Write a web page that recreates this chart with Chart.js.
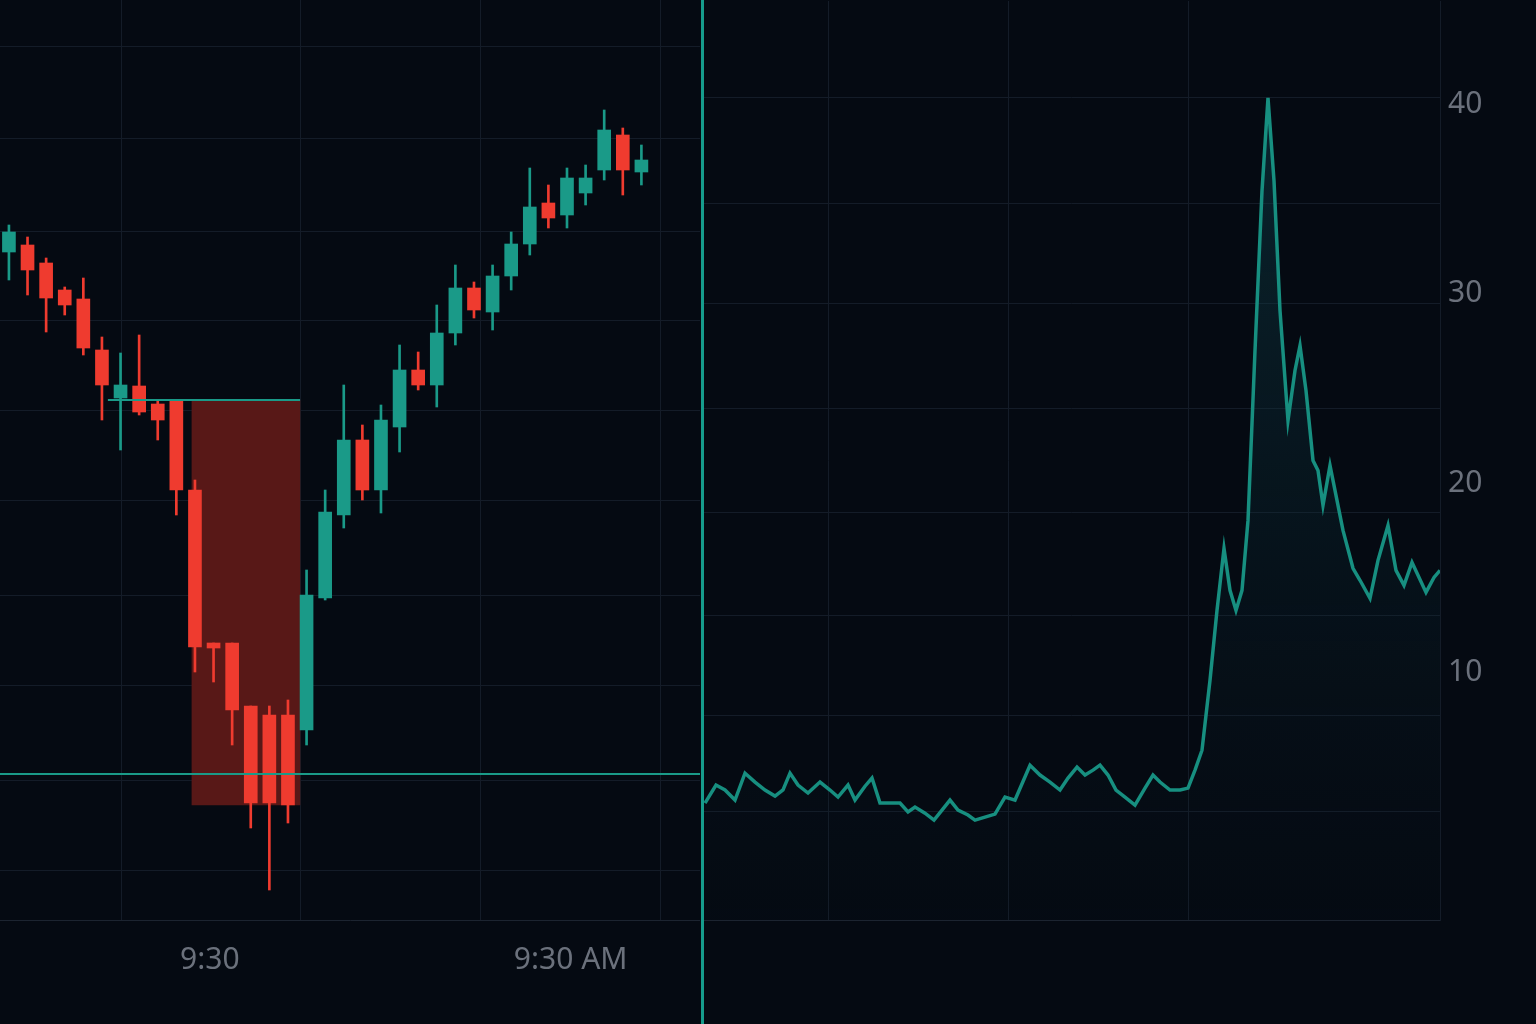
<!DOCTYPE html>
<html><head><meta charset="utf-8">
<script src="https://cdn.jsdelivr.net/npm/chart.js@4"></script>
<style>
html,body{margin:0;padding:0;background:#050a12;width:1536px;height:1024px;overflow:hidden}
#l{position:absolute;left:0;top:0;width:700px;height:1024px}
#r{position:absolute;left:703px;top:-25px;width:833px;height:1049px}
#sep{position:absolute;left:701px;top:0;width:3px;height:1024px;background:#169c8c}
</style></head><body>
<div id="l"><canvas id="cl"></canvas></div>
<div id="r"><canvas id="cr"></canvas></div>
<div id="sep"></div>
<script>
// Candles: open, close, high, low
const opens  = [166.8,167.5,165.7,163.0,162.1,157.0,152.2,153.4,151.6,152.0,143.0,127.7,127.7,121.4,120.5,120.5,119.0,132.2,140.5,148.0,143.0,149.3,155.0,153.5,158.7,163.2,160.8,164.4,167.6,171.7,170.5,172.7,175.0,178.5,174.8];
const closes = [168.8,165.0,162.2,161.5,157.2,153.5,153.5,150.8,150.0,143.0,127.3,127.2,121.0,111.7,111.7,111.5,132.5,140.8,148.0,143.0,150.0,155.0,153.5,158.7,163.2,161.0,164.4,167.6,171.3,170.2,174.2,174.2,179.0,175.0,176.0];
const highs  = [169.5,168.3,166.2,163.3,164.2,158.3,156.7,158.5,152.0,152.0,144.0,127.7,127.7,121.4,121.4,122.0,135.0,143.0,153.5,149.5,151.5,157.5,156.8,161.5,165.5,163.8,165.5,168.8,175.2,173.5,175.2,175.5,181.0,179.2,177.5];
const lows   = [164.0,162.5,158.8,160.5,156.5,150.0,147.0,150.5,148.0,140.5,124.8,123.8,117.5,109.2,103.0,109.7,117.5,132.0,139.2,142.0,140.7,146.8,153.0,151.3,157.5,160.2,159.0,163.0,166.5,169.2,169.2,171.5,174.0,172.5,173.5];
const levelHigh = 152.0, levelLow = 114.6, zoneBottom = 111.5;
const xTickLabels = ["9:30","9:30 AM"];
// Right line series
const times = [705,716,725,735,745,755,765,775,783,790,798,808,820,830,838,848,855,865,872,880,890,900,908,915,925,934,942,950,958,968,975,985,995,1005,1015,1030,1040,1050,1060,1068,1077,1085,1093,1100,1108,1116,1125,1135,1145,1153,1160,1170,1180,1188,1195,1202,1210,1217,1224,1230,1236,1242,1248,1255,1262,1268,1274,1280,1288,1295,1300,1306,1313,1318,1323,1330,1336,1343,1353,1360,1370,1378,1388,1396,1404,1412,1418,1426,1434,1440];
const values = [3.11,4.06,3.80,3.27,4.69,4.22,3.80,3.48,3.80,4.69,4.06,3.64,4.22,3.80,3.43,4.06,3.27,4.00,4.43,3.11,3.11,3.11,2.64,2.90,2.58,2.21,2.74,3.27,2.74,2.48,2.21,2.37,2.53,3.43,3.27,5.11,4.59,4.22,3.80,4.43,5.01,4.59,4.85,5.11,4.59,3.80,3.43,3.00,3.90,4.59,4.22,3.80,3.80,3.90,4.85,5.90,9.59,13.28,16.55,14.34,13.28,14.34,18.03,26.99,35.42,40.33,35.95,29.10,23.30,25.94,27.25,24.88,21.19,20.66,18.82,20.93,19.35,17.50,15.50,14.87,13.92,15.92,17.76,15.39,14.60,15.81,15.13,14.23,15.02,15.39];
const rightLabels = [10,20,30,40];

const RED='#ef3b2f', TEAL='#1a9a88', GRID='#141c28', TXT='#6b717c';
const idx = opens.map((_,i)=>i);
const cols = idx.map(i=>closes[i]>=opens[i]?TEAL:RED);

new Chart(document.getElementById('cl'),{
  type:'bar',
  data:{datasets:[
    {type:'bar',grouped:false,data:[{x:12.74,y:[levelHigh,zoneBottom]}],backgroundColor:'#581817',barThickness:108,order:5},
    {type:'line',data:[{x:5.32,y:levelHigh},{x:15.65,y:levelHigh}],borderColor:TEAL,borderWidth:2,pointRadius:0,order:1},
    {type:'line',data:[{x:-1,y:levelLow},{x:38,y:levelLow}],borderColor:TEAL,borderWidth:2,pointRadius:0,order:1},
    {type:'bar',grouped:false,data:idx.map(i=>({x:i,y:[lows[i],highs[i]]})),backgroundColor:cols,barThickness:2,order:3},
    {type:'bar',grouped:false,data:idx.map(i=>({x:i,y:[opens[i],closes[i]]})),backgroundColor:cols,barThickness:13,minBarLength:2,order:2}
  ]},
  options:{responsive:true,maintainAspectRatio:false,animation:false,
    layout:{padding:0},
    plugins:{legend:{display:false},tooltip:{enabled:false}},
    scales:{
      x:{type:'linear',min:-0.48,max:37.15,offset:false,
        afterBuildTicks:s=>{s.ticks=[1.29,10.8,20.5,30.2].map(v=>({value:v}));},
        afterFit:s=>{s.height=104;},
        ticks:{color:TXT,font:{family:'Noto Sans',size:30},padding:22,maxRotation:0,
          callback:(v,i)=>i===1?xTickLabels[0]:(i===3?xTickLabels[1]:'')},
        grid:{color:GRID,drawTicks:false},border:{color:'#1c2430'}},
      y:{min:100,max:192,
        afterBuildTicks:s=>{s.ticks=[105,114,123.5,132.5,142,151,160,168.8,178.2,187.3].map(v=>({value:v}));},
        afterFit:s=>{s.width=0;},
        ticks:{display:false},grid:{color:GRID,drawTicks:false},border:{display:false}}
    }}
});

const ctxR=document.getElementById('cr').getContext('2d');
const gradFill=(c)=>{const a=c.chart.chartArea;if(!a)return 'rgba(20,80,90,0.2)';
  const g=c.chart.ctx.createLinearGradient(0,a.top,0,a.bottom);
  g.addColorStop(0,'rgba(16,70,80,0.55)');g.addColorStop(1,'rgba(10,30,40,0.05)');return g;};
const gridVals=[2.64,7.75,13.02,18.45,23.93,29.47,34.74,40.33];
new Chart(ctxR,{
  type:'line',
  data:{datasets:[{data:times.map((t,i)=>({x:t,y:values[i]})),borderColor:'#178f80',borderWidth:3.5,pointRadius:0,tension:0,fill:'start',backgroundColor:gradFill}]},
  options:{responsive:true,maintainAspectRatio:false,animation:false,layout:{padding:0},
    plugins:{legend:{display:false},tooltip:{enabled:false}},
    scales:{
      x:{type:'linear',min:703,max:1440,
        afterBuildTicks:s=>{s.ticks=[828,1008,1188].map(v=>({value:v}));},
        afterFit:s=>{s.height=104;},
        ticks:{display:false},grid:{color:GRID,drawTicks:false},border:{color:'#1c2430'}},
      y:{position:'right',min:-3.06,max:45.44,
        afterBuildTicks:s=>{s.ticks=[-3.06,2.64,7.75,10,13.02,18.45,20,23.93,29.47,30,34.74,40,40.33,45.44].map(v=>({value:v}));},
        afterFit:s=>{s.width=96;},
        ticks:{color:TXT,font:{family:'Noto Sans',size:30},padding:8,
          callback:v=>rightLabels.includes(v)?String(v):''},
        grid:{drawTicks:false,color:c=>(c.tick&&gridVals.includes(c.tick.value))?GRID:'rgba(0,0,0,0)'},
        border:{color:'#141c28'}}
    }}
});
</script>
</body></html>
